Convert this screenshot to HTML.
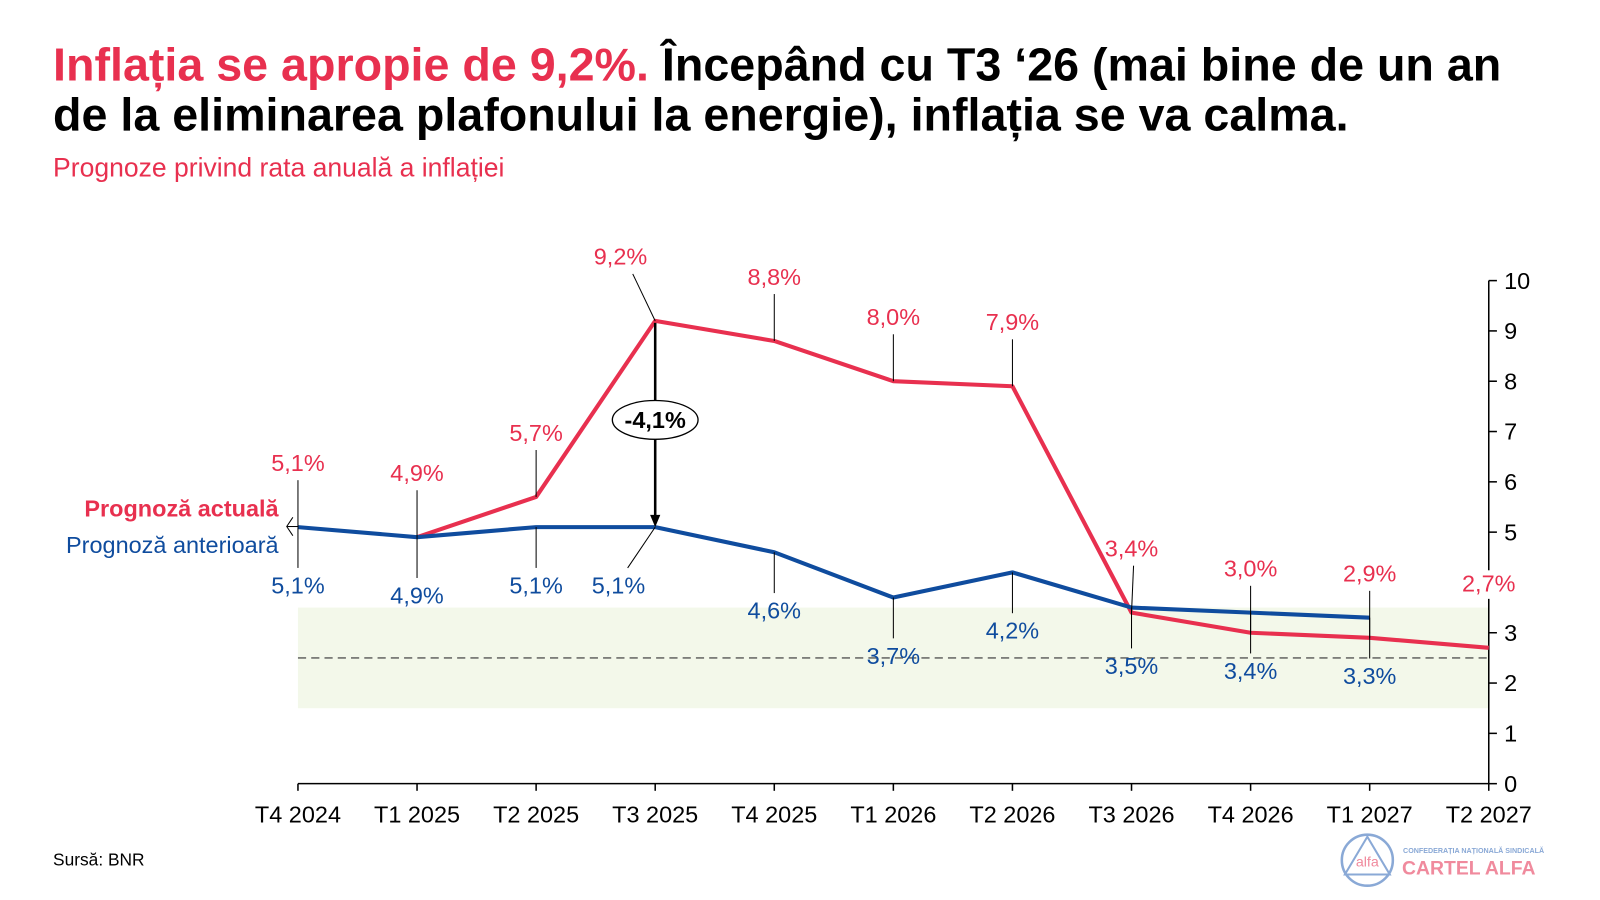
<!DOCTYPE html>
<html><head><meta charset="utf-8">
<style>
body{margin:0;width:1600px;height:900px;background:#fff;font-family:"Liberation Sans",Arial,sans-serif;overflow:hidden;position:relative}
#w{position:absolute;left:0;top:0;width:1568px;height:882px;transform:scale(1.0204);transform-origin:0 0}
.t{position:absolute;left:52px;font-weight:bold;font-size:45.7px;line-height:49px;color:#000;white-space:nowrap}
.red{color:#e8304f}
</style></head><body>
<div id="w">
<div class="t" style="top:39px"><span class="red">Inflația se apropie de 9,2%.</span> Începând cu T3 ‘26 (mai bine de un an<br>de la eliminarea plafonului la energie), inflația se va calma.</div>
<div style="position:absolute;left:52px;top:149px;font-size:26px;color:#e8304f">Prognoze privind rata anuală a inflației</div>
<svg id="c" width="1568" height="882" style="position:absolute;left:0;top:0"></svg>
</div>
<script>
const categories=["T4 2024","T1 2025","T2 2025","T3 2025","T4 2025","T1 2026","T2 2026","T3 2026","T4 2026","T1 2027","T2 2027"];
const currentValues=[5.1,4.9,5.7,9.2,8.8,8.0,7.9,3.4,3.0,2.9,2.7];
const previousValues=[5.1,4.9,5.1,5.1,4.6,3.7,4.2,3.5,3.4,3.3];
const yTicks=[0,1,2,3,4,5,6,7,8,9,10];
const targetBand=[1.5,3.5];
const targetLine=2.5;
const gap=-4.1;
const RED="#e8304f",BLUE="#0f4c9e",NS="http://www.w3.org/2000/svg";
const svg=document.getElementById('c');
const FS=23;
const x=i=>292+i*(1459-292)/(categories.length-1);
const y=v=>768-v*49.3;
const fmt=v=>v.toFixed(1).replace('.',',')+'%';
function el(t,a,txt){const e=document.createElementNS(NS,t);for(const k in a)e.setAttribute(k,a[k]);if(txt!==undefined)e.textContent=txt;svg.appendChild(e);return e;}
let b=el('rect',{x:292,y:y(targetBand[1]),width:1459-292,height:y(targetBand[0])-y(targetBand[1]),fill:"#f3f8ea"});


let d=el('line',{x1:292,x2:1459,y1:y(targetLine),y2:y(targetLine),stroke:"#555","stroke-width":1.3,"stroke-dasharray":"8,5"});


el('line',{x1:292,x2:1459,y1:768,y2:768,stroke:"#000","stroke-width":1.5});
el('line',{x1:1459,x2:1459,y1:275,y2:768,stroke:"#000","stroke-width":1.5});
yTicks.forEach(t=>{el('line',{x1:1459,x2:1467,y1:y(t),y2:y(t),stroke:"#000","stroke-width":1.5});
let tx=el('text',{x:1474,y:y(t)+8,"font-size":FS,fill:"#000"},t);

});
categories.forEach((c,i)=>{el('line',{x1:x(i),x2:x(i),y1:768,y2:775,stroke:"#000","stroke-width":1.5});
let tx=el('text',{x:x(i),y:806,"font-size":FS,"text-anchor":"middle",fill:"#000"},c);

});
const line=(vals,col,start,name)=>{let p=vals.map((v,i)=>(i<start?null:x(i)+','+y(v))).filter(Boolean).join(' ');
let pl=el('polyline',{points:p,fill:"none",stroke:col,"stroke-width":4,"stroke-linejoin":"round"});

};
line(currentValues,RED,1,'current-forecast-line');
line(previousValues,BLUE,0,'previous-forecast-line');
currentValues.forEach((v,i)=>{
 const px=x(i),py=y(v);let lx=px,ly=py-55;
 if(i==3){lx=px-34;el('line',{x1:px,y1:py,x2:px-22,y2:py-46,stroke:"#000","stroke-width":1});}
 else if(i==7){el('line',{x1:px,y1:py,x2:px+2,y2:py-46,stroke:"#000","stroke-width":1});}
 else if(i==10){el('rect',{x:px-26,y:py-76,width:54,height:28,fill:"#fff"});}
 else el('line',{x1:px,y1:py,x2:px,y2:py-46,stroke:"#000","stroke-width":1});
 let t=el('text',{x:lx,y:ly,"font-size":FS,"text-anchor":"middle",fill:RED},fmt(v));
 
 
});
previousValues.forEach((v,i)=>{
 const px=x(i),py=y(v);let lx=px;
 if(i==3){lx=px-36;el('line',{x1:px,y1:py,x2:px-27,y2:py+40,stroke:"#000","stroke-width":1});}
 else el('line',{x1:px,y1:py,x2:px,y2:py+40,stroke:"#000","stroke-width":1});
 let t=el('text',{x:lx,y:py+65,"font-size":FS,"text-anchor":"middle",fill:BLUE},fmt(v));
 
 
});
el('line',{x1:x(3),x2:x(3),y1:y(currentValues[3])+2,y2:y(previousValues[3])-10,stroke:"#000","stroke-width":2.5});
el('polygon',{points:`${x(3)-5},${y(previousValues[3])-12} ${x(3)+5},${y(previousValues[3])-12} ${x(3)},${y(previousValues[3])}`,fill:"#000"});
const my=(y(currentValues[3])+y(previousValues[3]))/2-4;
let g=el('ellipse',{cx:x(3),cy:my,rx:42,ry:19,fill:"#fff",stroke:"#000","stroke-width":1.3});


el('text',{x:x(3),y:my+8,"font-size":FS,"font-weight":"bold","text-anchor":"middle",fill:"#000"},String(gap).replace('.',',')+'%');
let l1=el('text',{x:273,y:506,"font-size":FS,"font-weight":"bold","text-anchor":"end",fill:RED},"Prognoză actuală");


let l2=el('text',{x:273,y:542,"font-size":FS,"text-anchor":"end",fill:BLUE},"Prognoză anterioară");


el('polyline',{points:"287,507 281,516 287,525",fill:"none",stroke:"#000","stroke-width":1});
el('line',{x1:281,x2:292,y1:516,y2:516,stroke:"#000","stroke-width":1});
let s=el('text',{x:52,y:848,"font-size":17,fill:"#000"},"Sursă: BNR");


el('circle',{cx:1340,cy:843,r:25,fill:"none",stroke:"#8aa9d6","stroke-width":2.5});
el('polygon',{points:"1340,820 1318,857 1362,857",fill:"none",stroke:"#8aa9d6","stroke-width":2});
el('text',{x:1340,y:849,"font-size":14,"text-anchor":"middle",fill:"#f08a9d"},"alfa");
el('text',{x:1375,y:836,"font-size":7,"font-weight":"bold",fill:"#8aa9d6"},"CONFEDERAȚIA NAȚIONALĂ SINDICALĂ");
let lg=el('text',{x:1374,y:857,"font-size":19,"font-weight":"bold",fill:"#f08a9d"},"CARTEL ALFA");


</script>
</body></html>
